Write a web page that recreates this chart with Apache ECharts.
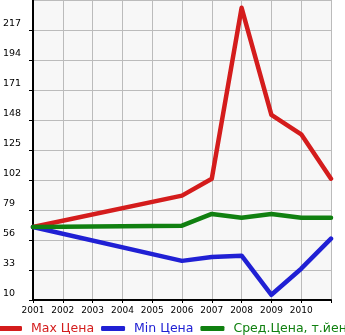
<!DOCTYPE html>
<html>
<head>
<meta charset="utf-8">
<script src="https://cdn.jsdelivr.net/npm/echarts@6/dist/echarts.min.js"></script>
<style>
  html, body { margin: 0; padding: 0; background: #ffffff; }
  #chart { width: 345px; height: 335px; }
</style>
</head>
<body>
<div id="chart"></div>
<script>
// Years on the x axis (the final slot closes the range and carries no label)
const years = ['2001', '2002', '2003', '2004', '2005', '2006', '2007', '2008', '2009', '2010', ''];
// Prices, thousand yen; null = no record for that year
const maxPrice = [66, null, null, null, null, 90, 103, 234, 152, 137, 103];
const minPrice = [66, null, null, null, null, 40, 43, 44, 14, 34, 57];
const avgPrice = [66, null, null, null, null, 67, 76, 73, 76, 73, 73];
const seriesNames = ['Max Цена', 'Min Цена', 'Сред.Цена, т.йен'];
const seriesColors = ['#d41c1c', '#2020d4', '#108010'];

const chart = echarts.init(document.getElementById('chart'), null, { renderer: 'canvas' });

function lineSeries(name, data, color) {
  return {
    name: name,
    type: 'line',
    data: data,
    connectNulls: true,
    showSymbol: false,
    symbol: 'none',
    lineStyle: { color: color, width: 4.5, cap: 'round', join: 'round' },
    itemStyle: { color: color },
    animation: false
  };
}

chart.setOption({
  animation: false,
  grid: {
    left: 31, right: 14, top: 0, bottom: 35,
    show: true, backgroundColor: '#f7f7f7', borderWidth: 0
  },
  xAxis: {
    type: 'category',
    data: years,
    boundaryGap: false,
    axisLine: { show: true, lineStyle: { color: '#000', width: 2 } },
    axisTick: { show: true, length: 3, lineStyle: { color: '#000', width: 1 } },
    axisLabel: {
      color: '#000', fontFamily: 'DejaVu Sans', fontSize: 9, margin: 6,
      interval: 0
    },
    splitLine: { show: true, lineStyle: { color: '#bbbbbb', width: 1 } }
  },
  yAxis: {
    type: 'value',
    min: 10, max: 240, interval: 23,
    axisLine: { show: true, lineStyle: { color: '#000', width: 2 } },
    axisTick: { show: true, length: 4, lineStyle: { color: '#000', width: 1 } },
    axisLabel: {
      color: '#000', fontFamily: 'DejaVu Sans', fontSize: 9.5,
      align: 'left', margin: 30, verticalAlign: 'bottom', lineHeight: 12,
      showMaxLabel: false
    },
    splitLine: { show: true, lineStyle: { color: '#bbbbbb', width: 1 } }
  },
  legend: {
    left: -2, top: 322, width: 420, orient: 'horizontal',
    padding: 0,
    itemWidth: 24, itemHeight: 5, itemGap: 7,
    icon: 'roundRect',
    textStyle: { fontFamily: 'DejaVu Sans', fontSize: 12.5, padding: [0, 0, 0, 4] },
    data: seriesNames.map((n, i) => ({ name: n, textStyle: { color: seriesColors[i] } }))
  },
  series: [
    lineSeries(seriesNames[0], maxPrice, seriesColors[0]),
    lineSeries(seriesNames[1], minPrice, seriesColors[1]),
    lineSeries(seriesNames[2], avgPrice, seriesColors[2])
  ]
});
</script>
</body>
</html>
